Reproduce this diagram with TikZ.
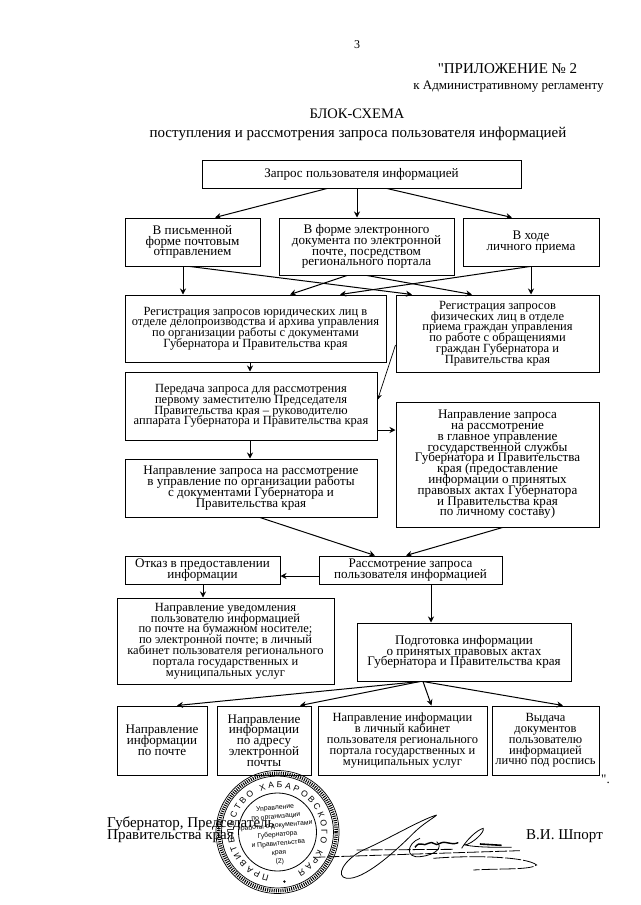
\documentclass[tikz,border=0pt]{standalone}
\usepackage{fontspec}
\setmainfont{Liberation Serif}[Ligatures=TeXOff]
\setsansfont{Liberation Sans}
\usetikzlibrary{arrows.meta,decorations.text}
\newcommand{\nolineskip}{\lineskiplimit=-20pt \lineskip=0pt\relax}
\tikzset{
  box/.style={draw=black,line width=1pt,align=center,inner sep=0pt,font=\fontsize{13.1}{10.8}\selectfont\nolineskip},
  tightbox/.style={box,font=\fontsize{12.5}{10.8}\selectfont\nolineskip},
  arr/.style={draw=black,line width=1pt,-{Stealth[length=6pt,width=6pt]}},
  thinarr/.style={draw=black,line width=0.7pt,-{Stealth[length=6pt,width=5pt]}},
  txt/.style={inner sep=0pt,anchor=base,font=\fontsize{15}{15}\selectfont},
  stamptext/.style={inner sep=0pt,align=center,font=\sffamily\fontsize{6.8}{9}\selectfont\nolineskip},
  sig/.style={draw=black,line width=0.8pt},
}
\newcommand{\bx}[6]{\node[box,minimum width={(#4-#2)*1pt},minimum height={(#5-#3)*1pt}] (#1) at ({(#2+#4)/2},{(#3+#5)/2}) {#6};}
\newcommand{\bxt}[6]{\node[tightbox,minimum width={(#4-#2)*1pt},minimum height={(#5-#3)*1pt}] (#1) at ({(#2+#4)/2},{(#3+#5)/2}) {#6};}
\begin{document}
\begin{tikzpicture}[x=1pt,y=-1pt]
\useasboundingbox (0,0) rectangle (640,905);
\fill[white] (0,0) rectangle (640,905);
% header
\node[txt,font=\fontsize{12}{12}\selectfont] (pg) at (357,48) {3};
\node[txt] (app) at (507.5,73) {"ПРИЛОЖЕНИЕ № 2};
\node[txt,font=\fontsize{13}{13}\selectfont] (reg) at (508.5,89) {к Административному регламенту};
\node[txt,font=\fontsize{14.5}{15}\selectfont] (ttl) at (357,118) {БЛОК-СХЕМА};
\node[txt] (sub) at (358,137) {поступления и рассмотрения запроса пользователя информацией};
% boxes
\bx{top}{202}{160}{521}{188}{Запрос пользователя информацией}
\bx{a}{125}{218}{260}{266}{В письменной\\форме почтовым\\отправлением}
\bx{b}{279}{218}{454}{275}{В форме электронного\\документа по электронной\\почте, посредством\\регионального портала}
\bx{c}{463}{218}{599}{266}{В ходе\\личного приема}
\bxt{d}{125}{295}{386}{362}{Регистрация запросов юридических лиц в\\отделе делопроизводства и архива управления\\по организации работы с документами\\Губернатора и Правительства края}
\bxt{e}{396}{295}{599}{372}{Регистрация запросов\\физических лиц в отделе\\приема граждан управления\\по работе с обращениями\\граждан Губернатора и\\Правительства края}
\bxt{f}{125}{372}{377}{440}{Передача запроса для рассмотрения\\первому заместителю Председателя\\Правительства края – руководителю\\аппарата Губернатора и Правительства края}
\bx{g}{125}{459}{377}{517}{Направление запроса на рассмотрение\\в управление по организации работы\\с документами Губернатора и\\Правительства края}
\bx{h}{396}{402}{599}{527}{Направление запроса\\на рассмотрение\\в главное управление\\государственной службы\\Губернатора и Правительства\\края (предоставление\\информации о принятых\\правовых актах Губернатора\\и Правительства края\\по личному составу)}
\bx{i}{125}{556}{280}{584}{Отказ в предоставлении\\информации}
\bx{j}{319}{556}{502}{584}{Рассмотрение запроса\\пользователя информацией}
\bxt{k}{117}{598}{334}{684}{Направление уведомления\\пользователю информацией\\по почте на бумажном носителе;\\по электронной почте; в личный\\кабинет пользователя регионального\\портала государственных и\\муниципальных услуг}
\bx{l}{357}{623}{571}{681}{Подготовка информации\\о принятых правовых актах\\Губернатора и Правительства края}
\bx{m}{117}{706}{207}{775}{Направление\\информации\\по почте}
\bx{n}{217}{706}{311}{775}{Направление\\информации\\по адресу\\электронной\\почты}
\bxt{o}{318}{706}{487}{775}{Направление информации\\в личный кабинет\\пользователя регионального\\портала государственных и\\муниципальных услуг}
\bxt{p}{492}{706}{599}{775}{Выдача\\документов\\пользователю\\информацией\\лично под роспись}
% connectors
\draw[arr] ([xshift=-34.5pt]top.south) -- ([xshift=22.5pt]a.north);
\draw[arr] ([xshift=-4.5pt]top.south) -- ([xshift=-9.5pt]b.north);
\draw[arr] ([xshift=25.5pt]top.south) -- ([xshift=-19pt]c.north);
\draw[arr] ([xshift=-9.5pt]a.south) -- ([xshift=-72.5pt]d.north);
\draw[arr] ([xshift=-2.5pt]a.south) -- ([xshift=-85.5pt]e.north);
\draw[arr] ([xshift=-19.5pt]b.south) -- ([xshift=34.5pt]d.north);
\draw[arr] ([xshift=0.5pt]b.south) -- ([xshift=-25.5pt]e.north);
\draw[arr] ([xshift=-1pt]c.south) -- ([xshift=84.5pt]d.north);
\draw[arr] ([xshift=0pt]c.south) -- ([xshift=33.5pt]e.north);
\draw[thinarr] ([yshift=-11.5pt]e.west) -- ([yshift=6pt]f.east);
\draw[arr] ([xshift=-5.5pt]d.south) -- ([xshift=-1pt]f.north);
\draw[arr] ([yshift=-24pt]f.east) -- ([yshift=34.5pt]h.west);
\draw[arr] ([xshift=-1pt]f.south) -- ([xshift=-1pt]g.north);
\draw[arr] ([xshift=9pt]g.south) -- ([xshift=-35.5pt]j.north);
\draw[arr] ([xshift=5pt]h.south) -- ([xshift=-4.5pt]j.north);
\draw[arr] ([yshift=-6pt]j.west) -- ([yshift=-6pt]i.east);
\draw[arr] ([xshift=0.5pt]i.south) -- ([xshift=-22.5pt]k.north);
\draw[arr] ([xshift=20.5pt]j.south) -- ([xshift=-33pt]l.north);
\draw[arr] ([xshift=-44pt]l.south) -- ([xshift=15pt]m.north);
\draw[arr] ([xshift=-44pt]l.south) -- ([xshift=36pt]n.north);
\draw[arr] ([xshift=-41pt]l.south) -- ([xshift=29pt]o.north);
\draw[arr] ([xshift=-41pt]l.south) -- ([xshift=17.5pt]p.north);
% closing
\node[txt,anchor=base west] (s1) at (107,827) {Губернатор, Председатель};
\node[txt,anchor=base west] (s2) at (107,839) {Правительства края};
\node[txt,anchor=base east] (s3) at (603,839) {В.И. Шпорт};
\node[txt,anchor=base west,font=\fontsize{13}{13}\selectfont] (qt) at (601,783) {".};
% stamp
\begin{scope}[shift={(277.5,832)},y=1pt]
\draw[line width=0.7pt] (0,0) circle[radius=61.5];
\draw[line width=0.7pt] (0,0) circle[radius=56];
\draw[line width=3.5pt,dash pattern=on 1pt off 1.2pt] (0,0) circle[radius=58.7];
\draw[line width=0.8pt] (0,0) circle[radius=39];
\path[decorate,decoration={text along path,text align={fit to path},
  text={|\sffamily\fontsize{8.6}{8.6}\selectfont|ПРАВИТЕЛЬСТВО ХАБАРОВСКОГО КРАЯ}}]
  (-101:44) arc[start angle=-101,end angle=-423,radius=44];
\fill (-82:50) circle[radius=1.3];
\node[stamptext,rotate=5] (st) at (0,-3) {Управление\\по организации\\работы с документами\\Губернатора\\и Правительства\\края\\(2)};
\end{scope}
% signature
\begin{scope}[shift={(100,760)},x=0.3333pt,y=-0.3333pt]
\draw[sig] (1010,165) .. controls (960,180) and (860,240) .. (790,270) .. controls (730,300) and (705,350) .. (740,355) .. controls (790,360) and (880,280) .. (940,220) .. controls (970,190) and (1000,175) .. (1010,165);
\draw[sig,dash pattern=on 12pt off 2pt] (640,292) -- (1260,272);
\draw[sig,dash pattern=on 12pt off 2pt] (770,270) -- (1060,268);
\draw[sig] (960,235) .. controls (920,250) and (915,295) .. (960,290) .. controls (1010,285) and (1030,260) .. (1010,245);
\draw[line width=1.4pt] (945,262) .. controls (960,240) and (970,262) .. (985,250) .. controls (1000,240) and (1005,262) .. (1020,250) .. controls (1040,240) and (1050,258) .. (1075,248);
\draw[sig] (1085,265) .. controls (1100,240) and (1130,210) .. (1150,205) .. controls (1155,215) and (1120,250) .. (1095,255) .. controls (1130,262) and (1180,262) .. (1235,262);
\draw[line width=1.6pt] (1140,252) -- (1205,256);
\draw[sig,dash pattern=on 16pt off 2pt] (1000,295) .. controls (1120,285) and (1280,290) .. (1310,315) .. controls (1290,330) and (1210,325) .. (1120,330);
\end{scope}
\end{tikzpicture}
\end{document}
